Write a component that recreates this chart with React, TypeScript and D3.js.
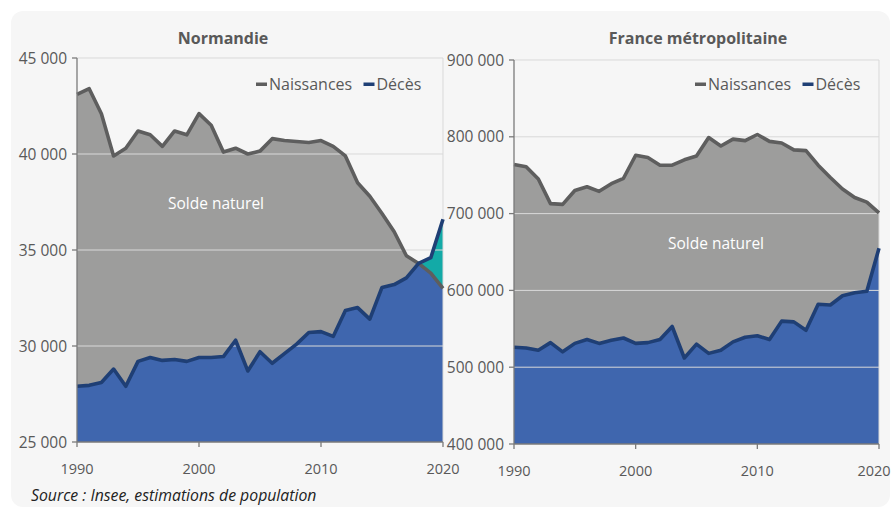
import React, { useRef, useEffect } from 'react';
import * as d3 from 'd3';

const years = d3.range(1990, 2021);

const normBirths = [43100, 43400, 42100, 39900, 40300, 41200, 41000, 40400, 41200, 41000,
  42100, 41500, 40100, 40300, 40000, 40150, 40800, 40700, 40650, 40600,
  40700, 40400, 39900, 38500, 37800, 36900, 35950, 34700, 34300, 33800, 33000];
const normDeaths = [27900, 27950, 28100, 28800, 27900, 29200, 29400, 29250, 29300, 29200,
  29400, 29400, 29450, 30300, 28700, 29700, 29100, 29600, 30100, 30700,
  30750, 30500, 31850, 32000, 31400, 33050, 33200, 33550, 34300, 34600, 36600];

const frBirths = [764000, 761000, 745000, 713000, 712000, 730000, 735000, 729000, 739000, 746000,
  776000, 773000, 763000, 763000, 770000, 775000, 799000, 788000, 797000, 795000,
  803000, 794000, 792000, 783000, 782000, 763000, 747000, 732000, 721000, 715000, 701000];
const frDeaths = [526000, 525000, 522000, 532000, 520000, 531000, 536000, 531000, 535000, 538000,
  531000, 532000, 536000, 553000, 512000, 530000, 518000, 522000, 533000, 539000,
  541000, 536000, 560000, 559000, 548000, 582000, 581000, 593000, 597000, 599000, 655000];

const normTicks = [25000, 30000, 35000, 40000, 45000];
const frTicks = [400000, 500000, 600000, 700000, 800000, 900000];
const xTicks = [1990, 2000, 2010, 2020];
const legendLabels = ['Naissances', 'Décès'];

const FONT = "'Open Sans', 'Noto Sans', sans-serif";
const fmt = d3.formatLocale({ decimal: ',', thousands: ' ', grouping: [3], currency: ['', ''] }).format(',d');

const panels = [
  { id: 'norm', title: 'Normandie', births: normBirths, deaths: normDeaths, ticks: normTicks,
    left: 77, right: 443, top: 58, bottom: 442, titleX: 223, soldeX: 216, soldeY: 209, legendX: 256 },
  { id: 'fr', title: 'France métropolitaine', births: frBirths, deaths: frDeaths, ticks: frTicks,
    left: 514, right: 879, top: 60, bottom: 444, titleX: 698, soldeX: 716, soldeY: 249, legendX: 695 },
];

const App = () => {
  const svgRef = useRef(null);

  useEffect(() => {
    const svg = d3.select(svgRef.current);
    svg.selectAll('*').remove();

    // card background
    svg.append('rect')
      .attr('x', 11).attr('y', 11)
      .attr('width', 879).attr('height', 496)
      .attr('rx', 12)
      .attr('fill', '#f6f6f6');

    panels.forEach(p => {
      const g = svg.append('g');
      const x = d3.scaleLinear().domain([1990, 2020]).range([p.left, p.right]);
      const y = d3.scaleLinear().domain(d3.extent(p.ticks)).range([p.bottom, p.top]);
      const base = y.domain()[0];

      const areaGen = d3.area().x((d, i) => x(years[i])).y0(y(base)).y1(d => y(d));
      const lineGen = d3.line().x((d, i) => x(years[i])).y(d => y(d));

      // clip: region below births line
      g.append('clipPath').attr('id', `clip-${p.id}`)
        .append('path').attr('d', areaGen(p.births));

      // grey: births
      g.append('path').attr('d', areaGen(p.births)).attr('fill', '#9d9d9c');
      // teal: deaths above births
      g.append('path').attr('d', areaGen(p.deaths)).attr('fill', '#13aaa7');
      // blue: below both
      g.append('path').attr('d', areaGen(p.deaths)).attr('fill', '#3f66ae')
        .attr('clip-path', `url(#clip-${p.id})`);

      // gridlines
      g.selectAll('.grid')
        .data(p.ticks.slice(1))
        .join('line')
        .attr('x1', p.left).attr('x2', p.right)
        .attr('y1', d => y(d)).attr('y2', d => y(d))
        .attr('stroke', '#d9d9d9').attr('stroke-width', 1);
      g.append('line')
        .attr('x1', p.right).attr('x2', p.right)
        .attr('y1', p.top).attr('y2', p.bottom)
        .attr('stroke', '#d9d9d9').attr('stroke-width', 1);

      // lines
      g.append('path').attr('d', lineGen(p.births))
        .attr('fill', 'none').attr('stroke', '#5e5e5e').attr('stroke-width', 3.6)
        .attr('stroke-linejoin', 'round');
      g.append('path').attr('d', lineGen(p.deaths))
        .attr('fill', 'none').attr('stroke', '#1f3f75').attr('stroke-width', 3.6)
        .attr('stroke-linejoin', 'round');

      // axes
      g.append('line')
        .attr('x1', p.left).attr('x2', p.left)
        .attr('y1', p.top).attr('y2', p.bottom)
        .attr('stroke', '#7a7a7a').attr('stroke-width', 1.3);
      g.append('line')
        .attr('x1', p.left).attr('x2', p.right)
        .attr('y1', p.bottom).attr('y2', p.bottom)
        .attr('stroke', '#7a7a7a').attr('stroke-width', 1.3);

      g.selectAll('.ytick')
        .data(p.ticks)
        .join('line')
        .attr('x1', p.left - 5).attr('x2', p.left)
        .attr('y1', d => y(d)).attr('y2', d => y(d))
        .attr('stroke', '#7a7a7a').attr('stroke-width', 1.3);
      g.selectAll('.ylab')
        .data(p.ticks)
        .join('text')
        .attr('x', p.left - 10)
        .attr('y', d => y(d) + 5.5)
        .attr('text-anchor', 'end')
        .attr('font-family', FONT).attr('font-size', '15.5px')
        .attr('fill', '#595959')
        .text(d => fmt(d));

      g.selectAll('.xtick')
        .data(xTicks)
        .join('line')
        .attr('x1', d => x(d)).attr('x2', d => x(d))
        .attr('y1', p.bottom).attr('y2', p.bottom + 5)
        .attr('stroke', '#7a7a7a').attr('stroke-width', 1.3);
      // keep the last label inside the window
      g.selectAll('.xlab')
        .data(xTicks)
        .join('text')
        .attr('x', d => Math.min(x(d), 874))
        .attr('y', p.bottom + 31.5)
        .attr('text-anchor', 'middle')
        .attr('font-family', FONT).attr('font-size', '14.5px')
        .attr('fill', '#595959')
        .text(d => d);

      // title
      g.append('text')
        .attr('x', p.titleX).attr('y', 44)
        .attr('text-anchor', 'middle')
        .attr('font-family', FONT).attr('font-size', '16px').attr('font-weight', 'bold')
        .attr('fill', '#595959')
        .text(p.title);

      // solde naturel
      g.append('text')
        .attr('x', p.soldeX).attr('y', p.soldeY)
        .attr('text-anchor', 'middle')
        .attr('font-family', FONT).attr('font-size', '15.5px')
        .attr('fill', '#ffffff')
        .text('Solde naturel');

      // legend
      const colors = ['#5e5e5e', '#1f3f75'];
      const offsets = [0, 107.5];
      legendLabels.forEach((lab, i) => {
        const lx = p.legendX + offsets[i];
        g.append('rect')
          .attr('x', lx).attr('y', 82.5)
          .attr('width', 11).attr('height', 3.5)
          .attr('fill', colors[i]);
        g.append('text')
          .attr('x', lx + 13).attr('y', 89.5)
          .attr('font-family', FONT).attr('font-size', '16px')
          .attr('fill', '#595959')
          .text(lab);
      });
    });

    svg.append('text')
      .attr('x', 31).attr('y', 501)
      .attr('font-family', FONT).attr('font-size', '15.8px').attr('font-style', 'italic')
      .attr('fill', '#222222')
      .text('Source : Insee, estimations de population');
  }, []);

  return <svg ref={svgRef} width={893} height={508}
    style={{ position: 'absolute', left: 0, top: 0 }}></svg>;
};

export default App;
